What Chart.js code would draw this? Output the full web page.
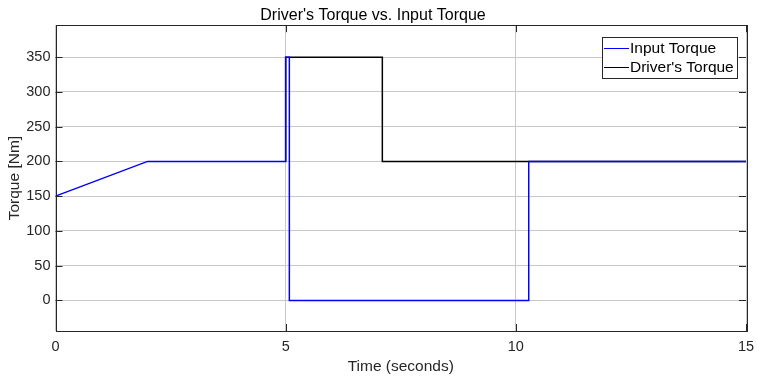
<!doctype html>
<html>
<head>
	<title>Driver's Torque vs. Input Torque</title>
	<script src="https://cdn.jsdelivr.net/npm/chart.js@4.4.1"></script>
	<style>
	* { margin: 0; padding: 0; }
	body { background: white; }
	.chartBox { width: 757px; height: 376px; }
	</style>
</head>
<body>
	<div class="chartBox">
		<canvas id="canvas_torque"></canvas>
	</div>

<script type="text/javascript">
	// data
	var inputTime   = [0, 2, 5, 5, 5.08, 5.08, 10.28, 10.28, 15];
	var inputTorque = [150, 200, 200, 350, 350, 0, 0, 200, 200];
	var driverTime   = [5, 5, 7.1, 7.1, 10.28, 15];
	var driverTorque = [200, 350, 350, 200, 200, 200];
	var xTicks = [0, 5, 10, 15];
	var yTicks = [0, 50, 100, 150, 200, 250, 300, 350];

	var FONT = "'Liberation Sans', Arial, sans-serif";
	var AXIS_CLR = '#262626';

	function toPoints(xs, ys) {
		return xs.map(function(x, i) { return {x: x, y: ys[i]}; });
	}

	// matlab style box, inward ticks and legend in the corner
	var boxPlugin = {
		id: 'matlabBox',
		afterDraw: function(chart) {
			var ctx = chart.ctx, a = chart.chartArea;
			var xs = chart.scales.x, ys = chart.scales.y;
			ctx.save();
			ctx.strokeStyle = AXIS_CLR;
			ctx.lineWidth = 1;
			ctx.strokeRect(Math.round(a.left) + 0.5, Math.round(a.top) + 0.5,
				Math.round(a.right - a.left), Math.round(a.bottom - a.top));
			ctx.beginPath();
			yTicks.forEach(function(v) {
				var py = Math.round(ys.getPixelForValue(v)) + 0.5;
				ctx.moveTo(a.left, py); ctx.lineTo(a.left + 7, py);
				ctx.moveTo(a.right, py); ctx.lineTo(a.right - 7, py);
			});
			xTicks.forEach(function(v) {
				var px = Math.round(xs.getPixelForValue(v)) + 0.5;
				ctx.moveTo(px, a.bottom); ctx.lineTo(px, a.bottom - 7);
				ctx.moveTo(px, a.top); ctx.lineTo(px, a.top + 7);
			});
			ctx.stroke();

			// legend
			var lx = 602, ly = 37, lw = 135, lh = 41;
			ctx.fillStyle = 'white';
			ctx.fillRect(lx, ly, lw, lh);
			ctx.strokeStyle = AXIS_CLR;
			ctx.strokeRect(lx + 0.5, ly + 0.5, lw, lh);
			ctx.font = '15.5px ' + FONT;
			ctx.textBaseline = 'middle';
			chart.data.datasets.forEach(function(ds, i) {
				var yy = ly + 11 + i * 19;
				ctx.strokeStyle = ds.borderColor;
				ctx.beginPath();
				ctx.moveTo(lx + 2, Math.round(yy) + 0.5);
				ctx.lineTo(lx + 27, Math.round(yy) + 0.5);
				ctx.stroke();
				ctx.fillStyle = '#000';
				ctx.fillText(ds.label, lx + 28, yy + 1);
			});
			ctx.restore();
		}
	};

	var torque_config = {
		type: 'line',
		data: {
			datasets: [
				{
					label: 'Input Torque',
					data: toPoints(inputTime, inputTorque),
					borderColor: '#0000ff',
					borderWidth: 1.5,
					pointRadius: 0,
					tension: 0,
				},
				{
					label: "Driver's Torque",
					data: toPoints(driverTime, driverTorque),
					borderColor: '#000000',
					borderWidth: 1.5,
					pointRadius: 0,
					tension: 0,
				}
			]
		},
		options: {
			responsive: false,
			animation: false,
			events: [],
			layout: { padding: { left: 0, right: 11, top: 0, bottom: 0 } },
			scales: {
				x: {
					type: 'linear',
					min: 0,
					max: 15,
					afterBuildTicks: function(s) { s.ticks = xTicks.map(function(v) { return {value: v}; }); },
					afterFit: function(s) { s.height = 45; s.paddingLeft = 0; s.paddingRight = 0; },
					grid: { color: '#c8c8c8', drawTicks: false },
					border: { display: false },
					ticks: { color: AXIS_CLR, font: { family: FONT, size: 14.5 }, padding: 7, maxRotation: 0 },
					title: { display: true, text: 'Time (seconds)', color: AXIS_CLR, font: { family: FONT, size: 15.5 }, padding: { top: 0, bottom: 0 } }
				},
				y: {
					min: -44,
					max: 396,
					afterBuildTicks: function(s) { s.ticks = yTicks.map(function(v) { return {value: v}; }); },
					afterFit: function(s) { s.width = 55.5; },
					grid: { color: '#c8c8c8', drawTicks: false },
					border: { display: false },
					ticks: { color: AXIS_CLR, font: { family: FONT, size: 14.5 }, padding: 5 },
					title: { display: true, text: 'Torque [Nm]', color: AXIS_CLR, font: { family: FONT, size: 15.5 }, padding: { top: 5, bottom: 0 } }
				}
			},
			plugins: {
				legend: { display: false },
				tooltip: { enabled: false },
				title: {
					display: true,
					text: "Driver's Torque vs. Input Torque",
					color: '#000',
					font: { family: FONT, size: 16, weight: 'normal' },
					padding: { top: 6, bottom: 0 }
				}
			}
		},
		plugins: [boxPlugin]
	};

	var canvas = document.getElementById('canvas_torque');
	canvas.width = 757;
	canvas.height = 376;
	var torque_Chart = new Chart(canvas, torque_config);
</script>
</body>
</html>
